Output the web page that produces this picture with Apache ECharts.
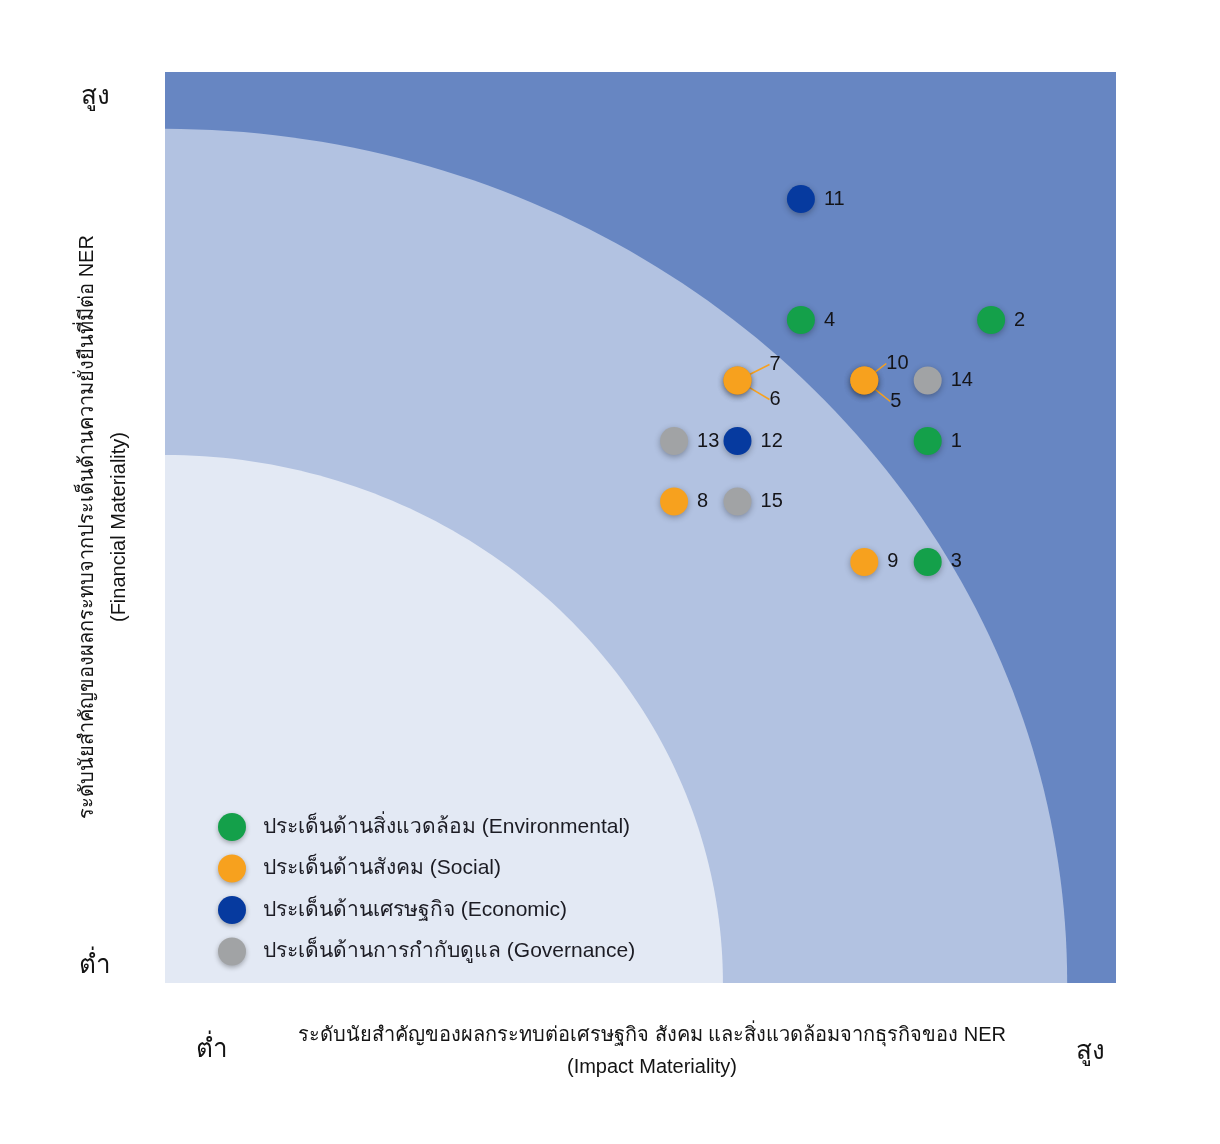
<!DOCTYPE html>
<html>
<head>
<meta charset="utf-8">
<script src="https://cdn.jsdelivr.net/npm/echarts@6/dist/echarts.min.js"></script>
<style>
  html, body { margin: 0; padding: 0; background: #fff; }
  #chart { width: 1220px; height: 1144px; }
</style>
</head>
<body>
<div id="chart"></div>
<script>
// categories (legend order)
const categories = [
  'ประเด็นด้านสิ่งแวดล้อม (Environmental)',
  'ประเด็นด้านสังคม (Social)',
  'ประเด็นด้านเศรษฐกิจ (Economic)',
  'ประเด็นด้านการกำกับดูแล (Governance)'
];
const colors = ['#14a04a', '#f7a11e', '#063a9f', '#a1a3a5'];

// [impact, financial, issue no.]
const environmental = [[12, 9, '1'], [13, 11, '2'], [12, 7, '3'], [10, 11, '4']];
const social = [[11, 10, '5'], [9, 10, '6'], [9, 10, '7'], [8, 8, '8'], [11, 7, '9'], [11, 10, '10']];
const economic = [[10, 13, '11'], [9, 9, '12']];
const governance = [[8, 9, '13'], [12, 10, '14'], [9, 8, '15']];
const groups = [environmental, social, economic, governance];

// axis extents (scale slightly off the whole numbers in the original)
const xRange = [-0.03, 14.97];
const yRange = [0.04, 15.1];

// quarter bands from the low/low corner: [x radius, y radius]
const bandRadii = [[14.23, 14.12], [8.8, 8.73]];
const bandColors = ['#b2c2e1', '#e3e9f4'];

// labels pushed apart where two issues share a point
const labelShift = { '7': [9, -16], '6': [9, 19], '10': [-1, -17], '5': [3, 21] };

const axisLow = 'ต่ำ';
const axisHigh = 'สูง';
const xTitle = 'ระดับนัยสำคัญของผลกระทบต่อเศรษฐกิจ สังคม และสิ่งแวดล้อมจากธุรกิจของ NER\n(Impact Materiality)';
const yTitle = 'ระดับนัยสำคัญของผลกระทบจากประเด็นด้านความยั่งยืนที่มีต่อ NER\n(Financial Materiality)';

const font = "'Liberation Sans', 'Noto Sans', sans-serif";
const chart = echarts.init(document.getElementById('chart'));

const bandSeries = {
  type: 'custom',
  silent: true,
  clip: true,
  z: 1,
  data: bandRadii,
  renderItem: (params, api) => {
    const c = api.coord([xRange[0], yRange[0]]);
    const rx = api.size([api.value(0), 0])[0];
    const ry = api.size([0, api.value(1)])[1];
    const pts = [c];
    for (let k = 0; k <= 90; k++) {
      const a = k * Math.PI / 180;
      pts.push([c[0] + rx * Math.cos(a), c[1] - ry * Math.sin(a)]);
    }
    return {
      type: 'polygon',
      shape: { points: pts },
      style: { fill: bandColors[params.dataIndex] }
    };
  }
};

const pointSeries = groups.map((g, i) => ({
  name: categories[i],
  type: 'scatter',
  z: 3,
  symbolSize: 28,
  itemStyle: {
    color: colors[i],
    opacity: 1,
    shadowBlur: 6,
    shadowColor: 'rgba(0,0,0,0.3)',
    shadowOffsetY: 2
  },
  label: {
    show: true,
    position: 'right',
    distance: 9,
    formatter: p => p.value[2],
    color: '#141418',
    fontSize: 20,
    fontFamily: font
  },
  labelLine: { show: false, lineStyle: { color: colors[i], width: 1.5 } },
  labelLayout: params => {
    const s = labelShift[g[params.dataIndex][2]];
    return s ? { dx: s[0], dy: s[1] } : {};
  },
  data: g.map(d => labelShift[d[2]]
    ? { value: d, labelLine: { show: true, length2: 0 } }
    : d)
}));

const text = (x, y, t, size, rot) => ({
  type: 'text',
  x: x,
  y: y,
  rotation: rot || 0,
  style: {
    text: t,
    fontSize: size,
    fontFamily: font,
    fill: '#141414',
    align: 'center',
    verticalAlign: 'middle',
    lineHeight: 32
  }
});

chart.setOption({
  animation: false,
  grid: {
    left: 165, top: 72, width: 951, height: 911,
    show: true, backgroundColor: '#6786c2', borderWidth: 0
  },
  xAxis: {
    type: 'value', min: xRange[0], max: xRange[1],
    axisLine: { show: false }, axisTick: { show: false },
    axisLabel: { show: false }, splitLine: { show: false }
  },
  yAxis: {
    type: 'value', min: yRange[0], max: yRange[1],
    axisLine: { show: false }, axisTick: { show: false },
    axisLabel: { show: false }, splitLine: { show: false }
  },
  legend: {
    data: categories,
    orient: 'vertical',
    left: 213,
    top: 808,
    icon: 'circle',
    itemWidth: 28,
    itemHeight: 28,
    itemGap: 13.5,
    itemStyle: { opacity: 1, shadowBlur: 5, shadowColor: 'rgba(0,0,0,0.3)', shadowOffsetY: 2 },
    textStyle: { fontSize: 21, color: '#1c1c24', fontFamily: font, padding: [0, 0, 0, 12] }
  },
  graphic: [
    text(95, 97, axisHigh, 26),
    text(95, 966, axisLow, 26),
    text(212, 1050, axisLow, 26),
    text(1090, 1052, axisHigh, 26),
    text(652, 1051, xTitle, 20),
    text(103, 527, yTitle, 20, Math.PI / 2)
  ],
  series: [bandSeries].concat(pointSeries)
});
</script>
</body>
</html>
